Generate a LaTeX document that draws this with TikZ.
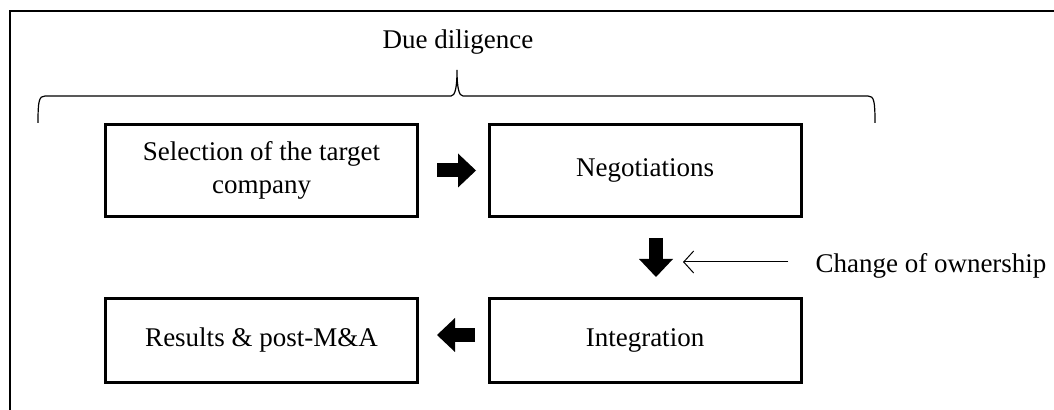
\documentclass[tikz,border=0pt]{standalone}
\usepackage{fontspec}
\setmainfont{Liberation Serif}
\usetikzlibrary{arrows.meta}
\tikzset{
	stage/.style={draw, line width=1.5pt, minimum width=156pt, align=center, font=\fontsize{13.5}{16.2}\selectfont},
	toprow/.style={stage, minimum height=46pt},
	botrow/.style={stage, minimum height=42pt},
	remark/.style={font=\fontsize{13.5}{16.2}\selectfont},
	flowarrow/.style={line width=7pt, -{Triangle[length=9pt,width=17pt,line width=0pt]}},
	thinarrow/.style={line width=0.5pt, -{Straight Barb[length=5pt,width=11pt]}}
}

\begin{document}
\begin{tikzpicture}[x=0.5pt, y=-0.5pt]
			%%%%% START %%%%%
			\useasboundingbox (0, 0) rectangle (1054, 410);
			
			\draw[line width=0.75pt] (10, 410) -- (10, 11) -- (1054, 11);
			
			\node[remark, anchor=base] (dd) at (458, 49) {Due diligence};
			\draw[line width=0.6pt] (38, 123) .. controls (38, 101) and (39, 96) .. (45, 96) -- (451, 96)
				.. controls (455, 96) and (457, 88) .. (457, 70)
				.. controls (457, 88) and (459, 96) .. (463, 96) -- (868, 96)
				.. controls (874, 96) and (875, 101) .. (875, 123);
			
			\node[toprow] (sel) at (261.5, 170.5) {Selection of the target\\company};
			\node[toprow] (neg) at (645, 170.5) {Negotiations};
			\node[botrow] (res) at (261.5, 340.5) {Results \& post-M\&A};
			\node[botrow] (integ) at (645, 340.5) {Integration};
			
			\draw[flowarrow, shorten <=9pt, shorten >=5.75pt] (sel) -- (neg);
			\draw[flowarrow, shorten <=10pt, shorten >=10pt] ([xshift=5.5pt]neg.south) -- ([xshift=5.5pt]integ.north);
			\draw[flowarrow, shorten <=6.25pt, shorten >=9pt] ([yshift=2.75pt]integ.west) -- ([yshift=2.75pt]res.east);
			
			\coordinate (chg) at (683, 262);
			\node[remark, anchor=base] (own) at (931, 273) {Change of ownership};
			\draw[thinarrow, shorten <=10pt] (own.west |- chg) -- (chg);
			
			%%%%% END %%%%%
\end{tikzpicture}
\end{document}
